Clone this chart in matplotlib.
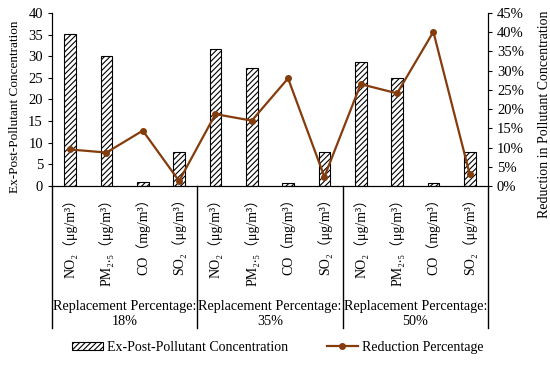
import numpy as np
import matplotlib.pyplot as plt
from matplotlib.ticker import PercentFormatter
from matplotlib.patches import Patch
from matplotlib.lines import Line2D

plt.rcParams['font.family'] = ['Liberation Serif', 'Noto Sans CJK SC', 'DejaVu Sans']
plt.rcParams['font.size'] = 10
plt.rcParams['hatch.linewidth'] = 0.8

# data
pollutants = ['NO₂（μg/m³）', 'PM₂.₅（μg/m³）', 'CO（mg/m³）', 'SO₂（μg/m³）']
groups = ['Replacement Percentage:\n18%', 'Replacement Percentage:\n35%',
          'Replacement Percentage:\n50%']
concentration = [35.2, 30.0, 1.0, 7.9,
                 31.6, 27.3, 0.8, 7.8,
                 28.6, 25.0, 0.7, 7.8]
reduction = [9.5, 8.7, 14.4, 1.3,
             18.7, 17.0, 28.0, 2.4,
             26.5, 24.1, 40.1, 3.1]

line_color = '#843C0C'

labels = pollutants * len(groups)
x = np.arange(len(labels))

fig = plt.figure(figsize=(5.5, 3.65), dpi=100)
ax = fig.add_axes([0.0945, 0.4904, 0.7925, 0.474])

ax.bar(x, concentration, width=0.32, color='white', edgecolor='black',
       linewidth=0.8, hatch='//////')
ax.set_xlim(-0.5, len(labels) - 0.5)
ax.set_ylim(0, 40)
ax.set_yticks(np.arange(0, 41, 5))
ax.set_xticks(x)
ax.set_xticklabels(labels, rotation=90, fontsize=10)
ax.tick_params(axis='x', length=0, pad=4)
ax.tick_params(axis='y', direction='out', length=3, labelsize=10.5)
ax.set_ylabel('Ex-Post-Pollutant Concentration', fontsize=9.5)
ax.yaxis.set_label_coords(-0.071, 0.457)
ax.spines['top'].set_visible(False)

ax2 = ax.twinx()
ax2.plot(x, np.array(reduction) / 100, color=line_color, linewidth=1.6,
         marker='o', markersize=4)
ax2.set_ylim(0, 0.45)
ax2.set_yticks(np.arange(0, 0.451, 0.05))
ax2.yaxis.set_major_formatter(PercentFormatter(1.0, decimals=0))
ax2.tick_params(axis='y', direction='out', length=3, labelsize=10.5)
ax2.set_ylabel('Reduction in Pollutant Concentration', fontsize=10)
ax2.yaxis.set_label_coords(1.115, 0.416)
ax2.spines['top'].set_visible(False)

# group separators below the axis
trans = ax.get_xaxis_transform()
for xs in [-0.5, 3.5, 7.5, 11.5]:
    ax.plot([xs, xs], [0, -0.82], color='black', linewidth=1,
            transform=trans, clip_on=False)

for i, g in enumerate(groups):
    ax.text(4 * i + 1.5, -0.74, g, transform=trans, ha='center', va='center',
            fontsize=10.3, linespacing=1.2)

handles = [Patch(facecolor='white', edgecolor='black', hatch='//////', linewidth=0.8),
           Line2D([], [], color=line_color, linewidth=1.6, marker='o', markersize=4)]
fig.legend(handles, ['Ex-Post-Pollutant Concentration', 'Reduction Percentage'],
           loc='center', bbox_to_anchor=(0.505, 0.048), ncol=2, frameon=False,
           fontsize=10, handlelength=2.2, handleheight=0.6, columnspacing=2.8,
           handletextpad=0.3)

fig.savefig('out.png', dpi=100)
